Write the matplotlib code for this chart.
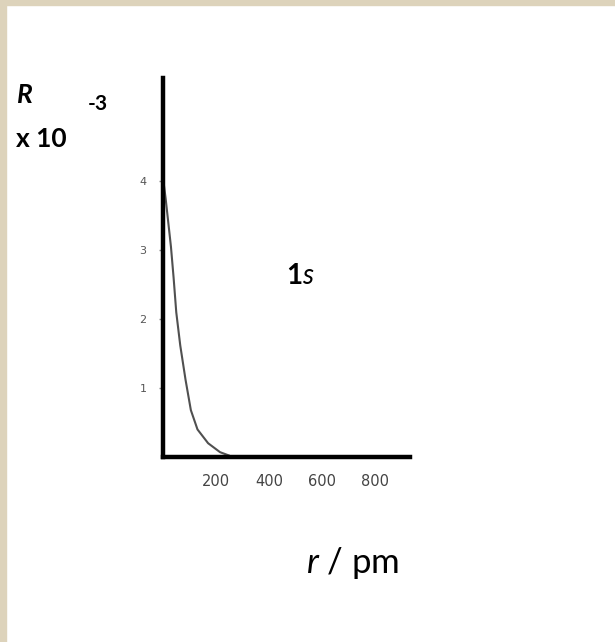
import matplotlib
matplotlib.use("Agg")
import matplotlib.pyplot as plt
from matplotlib.patches import Rectangle

# data
r_pm = [0, 10, 20, 30, 40, 50, 65, 85, 105, 130, 170, 215, 250]
R_val = [4.05, 3.75, 3.4, 3.05, 2.6, 2.1, 1.62, 1.12, 0.68, 0.4, 0.2, 0.07, 0.02]
x_ticks = [200, 400, 600, 800]
y_ticks = [1, 2, 3, 4]

plt.rcParams["mathtext.fontset"] = "custom"
plt.rcParams["mathtext.rm"] = "Lato"
plt.rcParams["mathtext.it"] = "Lato:italic"
plt.rcParams["mathtext.bf"] = "Lato:bold"

fig = plt.figure(figsize=(6.15, 6.42), dpi=100)
fig.patch.set_facecolor("white")
# beige frame strips (top and left)
fig.patches.append(Rectangle((0, 1 - 5/642), 1, 5/642, transform=fig.transFigure,
                             color="#ddd3bb", zorder=0))
fig.patches.append(Rectangle((0, 0), 6/615, 1, transform=fig.transFigure,
                             color="#ddd3bb", zorder=0))

ax = fig.add_axes([163/615, 1 - 457/642, (410 - 163)/615, (457 - 78)/642])
ax.plot(r_pm, R_val, color="#505050", lw=1.5, solid_capstyle="round")
ax.set_xlim(0, 931)
ax.set_ylim(0, 5.5)

for s in ["top", "right"]:
    ax.spines[s].set_visible(False)
for s in ["left", "bottom"]:
    ax.spines[s].set_linewidth(3.2)
    ax.spines[s].set_color("black")
    ax.spines[s].set_capstyle("projecting")

ax.set_xticks(x_ticks)
ax.set_xticklabels([str(v) for v in x_ticks])
ax.set_yticks(y_ticks)
ax.set_yticklabels([str(v) for v in y_ticks])
ax.tick_params(axis="x", length=0, pad=12, labelsize=10.5, labelcolor="#444444")
ax.tick_params(axis="y", length=3, width=1, color="#888888", pad=9,
               labelsize=8, labelcolor="#555555")
for lab in ax.get_xticklabels():
    lab.set_family(["DejaVu Sans Condensed", "DejaVu Sans"])
    lab.set_x(lab.get_position()[0])
for lab in ax.get_yticklabels():
    lab.set_family(["DejaVu Sans Condensed", "DejaVu Sans"])

fam = ["Lato", "DejaVu Sans"]
fig.text(17/615, 1 - 103/642, "R", fontsize=19, style="italic", weight="bold",
         family=fam, ha="left", va="baseline")
fig.text(16/615, 1 - 147/642, "x 10", fontsize=19, weight="bold", family=fam,
         ha="left", va="baseline")
fig.text(88/615, 1 - 110/642, "-3", fontsize=15, weight="bold", family=fam,
         ha="left", va="baseline")
fig.text(300/615, 1 - 284/642, r"$\mathbf{1}$$\mathit{s}$", fontsize=20,
         family=fam, ha="center", va="baseline")
fig.text(353/615, 1 - 573/642, r"$\mathit{r}$ / pm", fontsize=25, family=fam,
         ha="center", va="baseline")

fig.savefig("out.png", dpi=100, facecolor=fig.get_facecolor())
